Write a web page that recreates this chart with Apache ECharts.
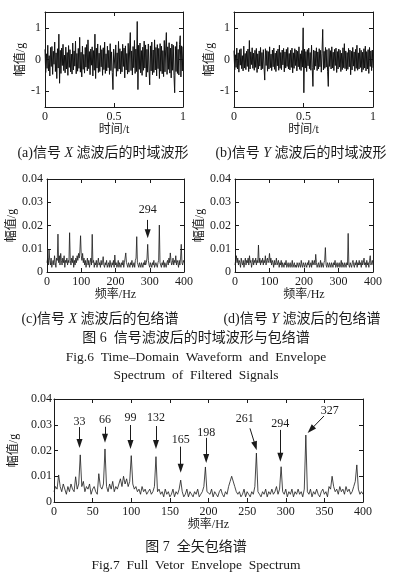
<!DOCTYPE html>
<html><head><meta charset="utf-8">
<script src="https://cdn.jsdelivr.net/npm/echarts@6/dist/echarts.min.js"></script>
<style>html,body{margin:0;padding:0;background:#fff}#c{width:420px;height:583px}</style>
</head><body><div id="c"></div><script>
// ---- Data ----
const sigX = [
0.32,-0.41,0.18,-0.28,0.45,-0.36,0.12,-0.52,0.38,-0.22,0.41,-0.47,0.26,-0.15,0.55,-0.38,0.21,-0.6,0.34,-0.27,
0.8,-0.75,0.29,-0.44,0.36,-0.19,0.48,-0.35,0.14,-0.42,0.39,-0.3,0.22,-0.5,0.44,-0.25,0.31,-0.39,0.17,-0.46,
0.52,-0.33,0.27,-0.21,0.58,-0.45,0.19,-0.37,0.35,-0.28,0.7,-0.4,0.23,-0.55,0.42,-0.31,0.16,-0.43,0.38,-0.24,
0.47,-0.36,0.62,-0.29,0.25,-0.48,0.33,-0.18,0.4,-0.52,0.28,-0.34,0.8,-0.6,0.36,-0.27,0.49,-0.41,0.2,-0.38,
0.44,-0.23,0.31,-0.5,0.37,-0.32,0.55,-0.44,0.18,-0.36,0.42,-0.26,0.29,-0.47,0.5,-0.35,0.24,-0.41,-0.95,0.33,
0.39,-0.28,0.46,-0.53,0.21,-0.37,0.57,-0.3,0.34,-0.45,0.26,-0.39,0.48,-0.22,0.36,-0.58,0.43,-0.33,0.19,-0.46,
0.51,-0.4,0.3,0.85,-0.35,0.27,-0.49,0.41,-0.26,0.6,-0.44,0.33,-0.38,1.2,-0.95,0.45,-0.31,0.52,-0.42,0.28,
-0.5,0.39,-0.34,0.58,-0.27,0.46,-0.55,0.32,-0.4,0.49,-0.3,-0.8,0.43,-0.36,0.55,-0.48,0.3,-0.41,0.62,-0.33,
0.38,-0.52,0.47,-0.29,0.35,-0.6,0.5,-0.37,0.42,-0.45,0.28,-0.54,0.6,-0.39,0.33,0.85,-0.47,0.4,-0.31,0.53,
-0.43,0.36,-0.58,0.49,-0.34,0.45,-0.5,-1.05,0.41,-0.38,0.56,-0.44,0.32,-0.49,0.47,0.75,-0.55,0.43,-0.36,0.4];
const sigY = [
0.28,-0.33,0.15,-0.25,0.36,-0.3,0.21,-0.4,0.31,-0.18,0.34,-0.29,0.12,-0.36,0.42,-0.27,0.19,-0.32,0.26,-0.22,
0.33,-0.38,0.6,-0.3,0.24,-0.16,0.37,-0.28,0.2,-0.34,0.29,-0.25,0.35,-0.41,0.18,-0.3,0.27,-0.21,0.38,-0.33,
0.22,-0.29,0.31,-0.24,-0.65,0.34,-0.19,0.28,-0.37,0.25,-0.3,0.4,-0.26,0.17,-0.35,0.3,-0.23,0.36,-0.31,0.2,
-0.38,0.27,-0.2,0.33,-0.34,0.45,-0.28,0.22,-0.32,0.3,-0.17,0.35,-0.39,0.24,-0.27,0.32,-0.22,0.38,-0.3,0.19,
-0.33,0.29,-0.25,0.36,-0.42,0.21,-0.28,0.34,-0.19,0.3,-0.36,0.26,-0.23,0.4,-0.31,0.18,-0.35,0.28,-0.24,1.0,
-1.05,0.33,-0.27,0.25,-0.38,0.31,-0.2,0.36,-0.29,0.22,-0.34,0.45,-0.26,-0.85,0.3,-0.32,0.27,-0.21,0.37,-0.35,
0.24,-0.3,0.34,-0.23,0.29,-0.4,0.2,0.95,-0.33,0.26,-0.28,0.38,-0.24,0.31,-0.37,-0.85,0.35,-0.22,0.28,-0.3,
0.4,-0.27,0.23,-0.35,0.32,-0.19,0.36,-0.41,0.25,-0.3,0.33,-0.24,0.29,-0.38,0.2,-0.32,0.37,-0.26,0.5,-0.29,
0.27,-0.36,0.22,-0.31,0.35,-0.23,0.3,-0.48,0.26,-0.33,0.38,-0.21,0.24,-0.37,0.32,-0.28,0.45,-0.34,0.21,-0.3,
0.36,-0.25,0.29,-0.4,0.23,-0.32,0.34,-0.27,0.42,-0.36,0.25,-0.3,0.31,-0.44,0.38,-0.22,0.27,-0.35,0.3,-0.26];
const envX = [
0.004,0.006,0.003,0.0095,0.005,0.003,0.006,0.002,0.004,0.005,0.003,0.007,0.004,0.002,0.006,0.005,0.0163,0.004,0.007,0.003,
0.008,0.005,0.003,0.006,0.004,0.007,0.002,0.005,0.004,0.006,0.003,0.005,0.004,0.0169,0.005,0.003,0.006,0.004,0.007,0.002,
0.005,0.003,0.006,0.004,0.007,0.005,0.008,0.006,0.009,0.0156,0.007,0.005,0.008,0.004,0.006,0.003,0.005,0.002,0.004,0.006,
0.003,0.005,0.002,0.004,0.006,0.003,0.0162,0.004,0.005,0.002,0.004,0.003,0.005,0.002,0.004,0.006,0.003,0.004,0.002,0.005,
0.003,0.004,0.0066,0.003,0.002,0.004,0.003,0.005,0.002,0.003,0.004,0.002,0.005,0.003,0.002,0.004,0.003,0.005,0.002,0.0073,
0.003,0.004,0.002,0.003,0.005,0.002,0.004,0.003,0.002,0.004,0.003,0.005,0.002,0.004,0.006,0.0082,0.004,0.003,0.002,0.004,
0.003,0.002,0.004,0.003,0.005,0.002,0.003,0.004,0.002,0.005,0.006,0.0152,0.004,0.003,0.002,0.004,0.003,0.002,0.004,0.003,
0.002,0.004,0.003,0.005,0.003,0.004,0.006,0.0119,0.005,0.003,0.002,0.004,0.003,0.002,0.004,0.003,0.005,0.002,0.003,0.004,
0.003,0.002,0.004,0.005,0.0202,0.004,0.003,0.002,0.004,0.003,0.005,0.002,0.004,0.003,0.002,0.004,0.005,0.003,0.006,0.004,
0.0082,0.005,0.003,0.004,0.006,0.003,0.005,0.004,0.007,0.003,0.005,0.004,0.002,0.005,0.003,0.006,0.0119,0.004,0.003,0.005,
0.004];
const envY = [
0.003,0.005,0.007,0.004,0.006,0.003,0.005,0.004,0.002,0.006,0.004,0.003,0.005,0.002,0.004,0.006,0.003,0.005,0.004,0.006,
0.003,0.007,0.004,0.005,0.002,0.004,0.006,0.003,0.005,0.004,0.006,0.003,0.005,0.004,0.0116,0.004,0.006,0.003,0.005,0.004,
0.006,0.003,0.005,0.004,0.007,0.003,0.005,0.006,0.004,0.005,0.008,0.004,0.006,0.003,0.005,0.004,0.002,0.005,0.003,0.004,
0.006,0.003,0.004,0.005,0.002,0.004,0.003,0.005,0.002,0.004,0.003,0.002,0.004,0.003,0.005,0.002,0.003,0.004,0.002,0.003,
0.004,0.002,0.003,0.005,0.002,0.003,0.004,0.002,0.003,0.002,0.004,0.003,0.002,0.004,0.003,0.002,0.005,0.003,0.002,0.004,
0.003,0.002,0.004,0.003,0.002,0.004,0.003,0.005,0.002,0.003,0.004,0.002,0.005,0.003,0.004,0.005,0.003,0.0076,0.004,0.002,
0.003,0.004,0.002,0.003,0.005,0.002,0.004,0.003,0.002,0.004,0.005,0.0105,0.003,0.002,0.004,0.003,0.002,0.004,0.003,0.002,
0.004,0.003,0.002,0.004,0.003,0.005,0.002,0.003,0.004,0.002,0.003,0.004,0.002,0.003,0.005,0.002,0.004,0.003,0.002,0.004,
0.003,0.002,0.004,0.003,0.0166,0.003,0.002,0.004,0.003,0.002,0.004,0.005,0.003,0.002,0.004,0.003,0.005,0.002,0.004,0.003,
0.005,0.003,0.004,0.002,0.005,0.003,0.004,0.006,0.003,0.004,0.002,0.005,0.003,0.004,0.002,0.005,0.007,0.003,0.004,0.005,
0.003];
const envFull = [
0.004,0.006,0.005,0.0105,0.006,0.004,0.007,0.005,0.003,0.006,0.004,0.007,0.005,0.004,0.0098,0.005,0.007,0.0183,0.006,0.008,
0.004,0.006,0.005,0.007,0.003,0.005,0.006,0.004,0.003,0.011,0.006,0.005,0.007,0.0206,0.006,0.004,0.007,0.005,0.008,0.004,
0.006,0.005,0.007,0.009,0.006,0.01,0.007,0.009,0.006,0.008,0.018,0.007,0.005,0.006,0.004,0.005,0.003,0.006,0.004,0.005,
0.003,0.004,0.005,0.003,0.004,0.006,0.0176,0.004,0.005,0.003,0.004,0.002,0.005,0.003,0.004,0.002,0.003,0.005,0.002,0.004,
0.003,0.005,0.0085,0.004,0.002,0.003,0.005,0.002,0.004,0.003,0.002,0.004,0.003,0.005,0.002,0.003,0.004,0.006,0.0136,0.004,
0.004,0.003,0.005,0.002,0.004,0.003,0.002,0.004,0.005,0.003,0.002,0.004,0.003,0.006,0.008,0.01,0.0105,0.006,0.004,0.003,
0.004,0.002,0.003,0.005,0.002,0.004,0.003,0.002,0.004,0.003,0.006,0.019,0.004,0.003,0.002,0.004,0.003,0.005,0.002,0.004,
0.003,0.005,0.003,0.004,0.006,0.003,0.005,0.0137,0.004,0.003,0.005,0.002,0.004,0.003,0.005,0.002,0.004,0.003,0.005,0.003,
0.004,0.002,0.005,0.026,0.004,0.003,0.005,0.002,0.004,0.003,0.005,0.003,0.002,0.004,0.005,0.003,0.004,0.002,0.006,0.005,
0.01,0.006,0.004,0.005,0.003,0.006,0.004,0.005,0.003,0.006,0.004,0.005,0.003,0.004,0.006,0.008,0.0144,0.005,0.003,0.004,
0.003];
const FREQ_STEP = 2;          // Hz between spectrum samples
const T_END = 1;              // s, time span of waveforms
const timeTicks = [0, 0.5, 1];
const ampTicks = [-1, 0, 1];
const freqTicksSmall = [0, 100, 200, 300, 400];
const freqTicksFull = [0, 50, 100, 150, 200, 250, 300, 350, 400];
const specTicks = [0, 0.01, 0.02, 0.03, 0.04];
// annotations: label text, label point, arrow start, arrow end (data coords)
const annotC = [{t:'294', at:[294,0.0267], from:[294,0.0224], to:[294,0.0165]}];
const annotFull = [
  {t:'33',  at:[33,0.0312],  from:[33,0.0291],  to:[33,0.0227]},
  {t:'66',  at:[66,0.0318],  from:[66,0.0292],  to:[66,0.0248]},
  {t:'99',  at:[99,0.0325],  from:[99,0.0299],  to:[99,0.0223]},
  {t:'132', at:[132,0.0326], from:[132,0.0295], to:[132,0.0223]},
  {t:'165', at:[164,0.0241], from:[164,0.0215], to:[164,0.0131]},
  {t:'198', at:[197,0.0269], from:[197,0.0249], to:[197,0.0169]},
  {t:'261', at:[247,0.0321], from:[253.7,0.0286], to:[260.7,0.0218]},
  {t:'294', at:[293,0.0303], from:[293,0.0280], to:[293,0.0174]},
  {t:'327', at:[357,0.0355], from:[349.5,0.0334], to:[332.4,0.0281]}
];

// ---- Build ----
const SERIF = '"Liberation Serif","Noto Sans CJK SC",serif';
const INK = '#1a1a1a';
const grids = [
  {left:45, top:12, width:138, height:95},
  {left:234, top:12, width:139, height:95},
  {left:47, top:179, width:137, height:93},
  {left:235, top:179, width:138, height:93},
  {left:54, top:399, width:309, height:103}
].map(g => Object.assign({outerBoundsMode:'none', containLabel:false}, g));

const xAxis = [], yAxis = [];
function fmt(v){ return String(+(+v).toFixed(3)); }
function addAxes(g, xo, yo){
  const line = {show:true, onZero:false, lineStyle:{color:INK, width:1}};
  const tick = (vals) => ({show:true, inside:true, length:4, customValues:vals, lineStyle:{color:INK, width:1}});
  const nameStyle = {color:INK, fontFamily:SERIF, fontSize:12};
  xAxis.push({gridIndex:g, type:'value', position:'bottom', min:xo.min, max:xo.max,
    axisLine:line, axisTick:tick(xo.ticks), splitLine:{show:false},
    axisLabel:{show:true, customValues:xo.ticks, margin:4, color:INK, fontFamily:SERIF, fontSize:12, formatter:fmt},
    name:xo.name, nameLocation:'middle', nameGap:xo.gap, nameTextStyle:nameStyle});
  xAxis.push({gridIndex:g, type:'value', position:'top', min:xo.min, max:xo.max,
    axisLine:line, axisTick:tick(xo.ticks), splitLine:{show:false}, axisLabel:{show:false}});
  yAxis.push({gridIndex:g, type:'value', position:'left', min:yo.min, max:yo.max,
    axisLine:line, axisTick:tick(yo.ticks), splitLine:{show:false},
    axisLabel:{show:true, customValues:yo.ticks, margin:yo.margin, color:INK, fontFamily:SERIF, fontSize:12, formatter:fmt},
    name:'幅值/g', nameLocation:'middle', nameGap:yo.gap, nameTextStyle:nameStyle});
  yAxis.push({gridIndex:g, type:'value', position:'right', min:yo.min, max:yo.max,
    axisLine:line, axisTick:tick(yo.ticks), splitLine:{show:false}, axisLabel:{show:false}});
}
addAxes(0, {min:0,max:1,ticks:timeTicks,name:'时间/t',gap:15}, {min:-1.5,max:1.5,ticks:ampTicks,margin:4,gap:16});
addAxes(1, {min:0,max:1,ticks:timeTicks,name:'时间/t',gap:15}, {min:-1.5,max:1.5,ticks:ampTicks,margin:4,gap:17});
addAxes(2, {min:0,max:400,ticks:freqTicksSmall,name:'频率/Hz',gap:16}, {min:0,max:0.04,ticks:specTicks,margin:4,gap:27});
addAxes(3, {min:0,max:400,ticks:freqTicksSmall,name:'频率/Hz',gap:16}, {min:0,max:0.04,ticks:specTicks,margin:4,gap:24});
addAxes(4, {min:0,max:400,ticks:freqTicksFull,name:'频率/Hz',gap:14}, {min:0,max:0.04,ticks:specTicks,margin:2,gap:21});

const timePairs = arr => arr.map((v,i) => [i*T_END/(arr.length-1), v]);
const freqPairs = arr => arr.map((v,i) => [i*FREQ_STEP, v]);

function annotate(list){
  return {
    markLine: {silent:true, animation:false, symbol:['none','triangle'], symbolSize:8,
      label:{show:false}, lineStyle:{color:INK, width:1, type:'solid'},
      emphasis:{disabled:true},
      data: list.map(a => [{coord:a.from, symbol:'none'}, {coord:a.to, symbol:'triangle', symbolSize:[6,9]}])},
    markPoint: {silent:true, animation:false, symbol:'rect', symbolSize:1,
      itemStyle:{color:'rgba(0,0,0,0)'},
      label:{show:true, position:'inside', formatter:'{b}', color:INK, fontFamily:SERIF, fontSize:12},
      data: list.map(a => ({name:a.t, coord:a.at}))}
  };
}

function lineSeries(g, data, w, color, extra){
  return Object.assign({type:'line', xAxisIndex:2*g, yAxisIndex:2*g, data, showSymbol:false, symbol:'none',
    lineStyle:{color, width:w}, animation:false, silent:true, clip:true}, extra||{});
}

const series = [
  lineSeries(0, timePairs(sigX), 1, '#111'),
  lineSeries(1, timePairs(sigY), 1, '#111'),
  lineSeries(2, freqPairs(envX), 0.8, INK, annotate(annotC)),
  lineSeries(3, freqPairs(envY), 0.8, INK),
  lineSeries(4, freqPairs(envFull), 0.8, INK, annotate(annotFull))
];

function txt(x, y, text, size, rich){
  return {type:'text', x, y, silent:true, style:{text, fill:INK, fontFamily:SERIF, fontSize:size,
    align:'center', verticalAlign:'middle', rich:rich||undefined}};
}
const it = {i:{fontStyle:'italic', fontFamily:'"Liberation Serif",serif', fontSize:14, fill:INK}};
const graphic = [
  txt(103, 153, '(a)信号 {i|X} 滤波后的时域波形', 14, it),
  txt(301, 153, '(b)信号 {i|Y} 滤波后的时域波形', 14, it),
  txt(100, 319, '(c)信号 {i|X} 滤波后的包络谱', 14, it),
  txt(302, 319, '(d)信号 {i|Y} 滤波后的包络谱', 14, it),
  txt(196, 338, '图 6  信号滤波后的时域波形与包络谱', 14),
  txt(196, 357, 'Fig.6  Time–Domain  Waveform  and  Envelope', 13.5),
  txt(196, 375, 'Spectrum  of  Filtered  Signals', 13.5),
  txt(196, 547, '图 7  全矢包络谱', 14),
  txt(196, 565, 'Fig.7  Full  Vetor  Envelope  Spectrum', 13.5)
];

const chart = echarts.init(document.getElementById('c'), null, {renderer:'canvas'});
chart.setOption({backgroundColor:'#fff', animation:false, grid:grids, xAxis, yAxis, series, graphic});
</script></body></html>
